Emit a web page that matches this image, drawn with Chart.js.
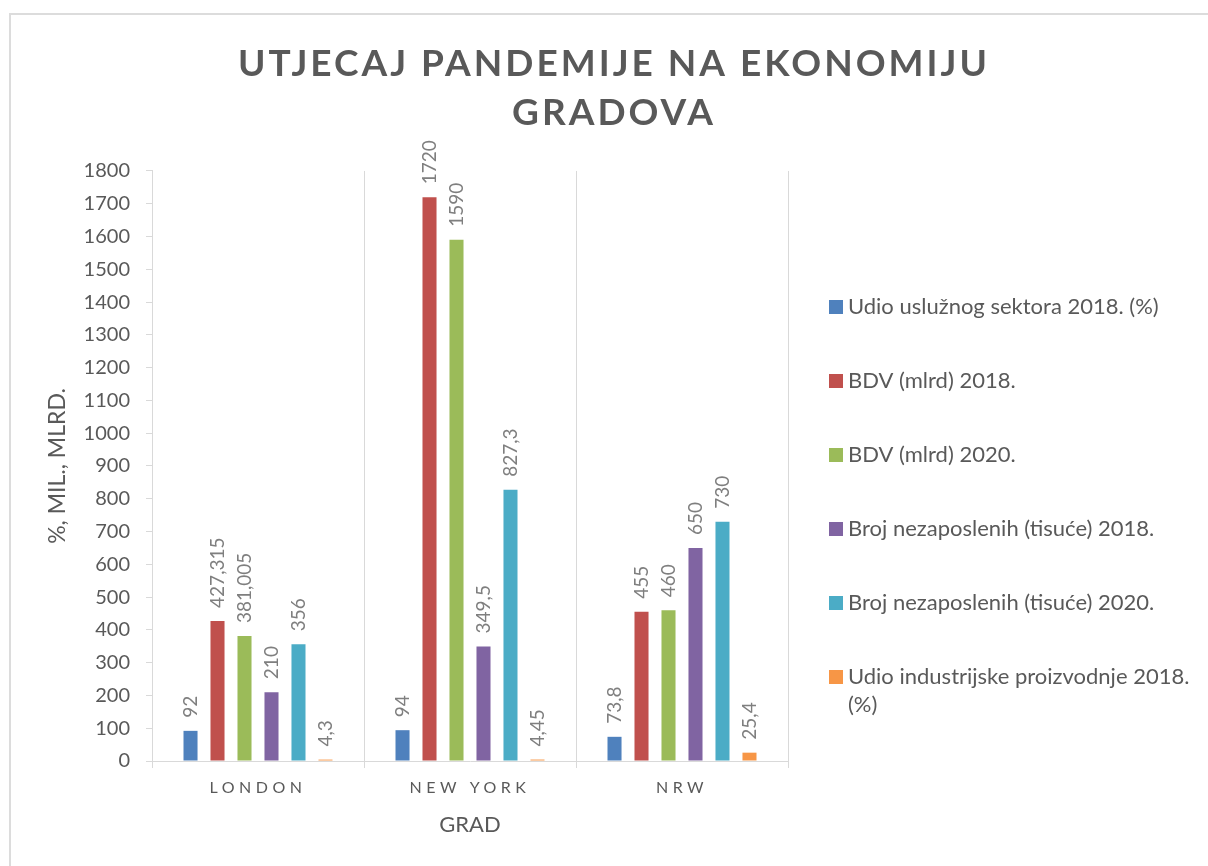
<!DOCTYPE html>
<html>
<head>
<meta charset="utf-8">
<script src="https://cdn.jsdelivr.net/npm/chart.js@4.4.1/dist/chart.umd.min.js"></script>
<style>
  html, body { margin: 0; padding: 0; background: #fff; overflow: hidden; }
  .okvir {
    position: absolute; left: 9px; top: 13px;
    border: 2px solid #dcdcdc;
    width: 1206px; height: 851px;
  }
  canvas { display: block; }
</style>
</head>
<body>
<div class="okvir"><canvas id="grafikon" width="1206" height="851"></canvas></div>
<script>
const gradovi = ["LONDON", "NEW YORK", "NRW"];

const udioUsluzni2018 = [92, 94, 73.8];
const bdv2018 = [427.315, 1720, 455];
const bdv2020 = [381.005, 1590, 460];
const nezaposleni2018 = [210, 349.5, 650];
const nezaposleni2020 = [356, 827.3, 730];
const udioIndustrija2018 = [4.3, 4.45, 25.4];

const nazivi = [
  "Udio uslužnog sektora 2018. (%)",
  "BDV (mlrd) 2018.",
  "BDV (mlrd) 2020.",
  "Broj nezaposlenih (tisuće) 2018.",
  "Broj nezaposlenih (tisuće) 2020.",
  "Udio industrijske proizvodnje 2018. (%)"
];
const boje = ["#4f81bd", "#c0504d", "#9bbb59", "#8064a2", "#4bacc6", "#f79646"];
const serije = [udioUsluzni2018, bdv2018, bdv2020, nezaposleni2018, nezaposleni2020, udioIndustrija2018];

const naslov = ["UTJECAJ PANDEMIJE NA EKONOMIJU", "GRADOVA"];
const yNaslov = "%, MIL., MLRD.";
const xNaslov = "GRAD";

const FONT = "Lato, 'Open Sans', sans-serif";
const SIVA = "#595959";
const LINIJA = "#d9d9d9";

// razmak slova za naslov i nazive gradova; naslov centriran na cijelu širinu
const razmakSlova = {
  id: "razmakSlova",
  beforeDraw(chart) {
    const t = chart.titleBlock;
    if (t && !t._razmak) {
      const orig = t.draw;
      t.draw = function () {
        const c = this.ctx;
        c.save();
        c.translate(chart.width / 2 - (this.left + this.right) / 2, 0);
        c.letterSpacing = "3px";
        orig.apply(this, arguments);
        c.restore();
      };
      t._razmak = true;
    }
    const x = chart.scales.x;
    if (x && !x._razmak) {
      const origL = x.drawLabels;
      x.drawLabels = function () {
        const c = this.ctx;
        c.save();
        c.letterSpacing = "4.5px";
        origL.apply(this, arguments);
        c.restore();
      };
      x._razmak = true;
    }
  }
};

// vrijednosti iznad stupaca, okrenute okomito
const oznake = {
  id: "oznake",
  afterDatasetsDraw(chart) {
    const ctx = chart.ctx;
    ctx.save();
    ctx.font = "19px " + FONT;
    ctx.fillStyle = "#7f7f7f";
    ctx.textAlign = "left";
    ctx.textBaseline = "middle";
    chart.data.datasets.forEach((ds, i) => {
      chart.getDatasetMeta(i).data.forEach((bar, j) => {
        const tekst = String(ds.data[j]).replace(".", ",");
        ctx.save();
        ctx.translate(bar.x, bar.y - 13);
        ctx.rotate(-Math.PI / 2);
        ctx.fillText(tekst, 0, 0);
        ctx.restore();
      });
    });
    ctx.restore();
  }
};

// legenda desno od grafikona
const legenda = {
  id: "legenda",
  afterDraw(chart) {
    const ctx = chart.ctx;
    const x0 = 818, y0 = 292, korak = 74, maxSirina = 352;
    ctx.save();
    ctx.font = "22px " + FONT;
    ctx.textBaseline = "middle";
    ctx.textAlign = "left";
    chart.data.datasets.forEach((ds, i) => {
      const y = y0 + i * korak;
      ctx.fillStyle = ds.backgroundColor;
      ctx.fillRect(x0, y - 7, 14, 14);
      ctx.fillStyle = SIVA;
      // prelamanje predugog naziva
      const rijeci = ds.label.split(" ");
      let red = "", redovi = [];
      rijeci.forEach(r => {
        const probni = red ? red + " " + r : r;
        if (ctx.measureText(probni).width > maxSirina && red) {
          redovi.push(red);
          red = r;
        } else {
          red = probni;
        }
      });
      redovi.push(red);
      redovi.forEach((r, k) => ctx.fillText(r, x0 + 19, y + k * 28));
    });
    ctx.restore();
  }
};

new Chart(document.getElementById("grafikon"), {
  type: "bar",
  data: {
    labels: gradovi,
    datasets: serije.map((s, i) => ({
      label: nazivi[i],
      data: s,
      backgroundColor: boje[i],
      categoryPercentage: 0.764,
      barPercentage: 0.52
    }))
  },
  options: {
    responsive: false,
    animation: false,
    layout: { padding: { left: 0, right: 429, top: 0, bottom: 0 } },
    plugins: {
      legend: { display: false },
      tooltip: { enabled: false },
      title: {
        display: true,
        text: naslov,
        color: SIVA,
        font: { family: FONT, size: 37, weight: "bold", lineHeight: 1.324 },
        padding: { top: 24.5, bottom: 33.5 }
      }
    },
    scales: {
      x: {
        afterFit(scale) { scale.height = 105; },
        border: { color: LINIJA },
        grid: { color: LINIJA, offset: true, tickLength: 7 },
        ticks: { color: SIVA, font: { family: FONT, size: 16 }, padding: 10 },
        title: {
          display: true,
          text: xNaslov,
          color: SIVA,
          font: { family: FONT, size: 22 },
          padding: { top: 0, bottom: 28 }
        }
      },
      y: {
        min: 0,
        max: 1800,
        afterFit(scale) { scale.width = 141; },
        border: { color: LINIJA },
        grid: { color: LINIJA, drawOnChartArea: false, tickLength: 6 },
        ticks: {
          stepSize: 100,
          color: SIVA,
          font: { family: FONT, size: 20 },
          padding: 16,
          autoSkip: false,
          callback: v => String(v)
        },
        title: {
          display: true,
          text: yNaslov,
          color: SIVA,
          font: { family: FONT, size: 23 },
          padding: { top: 33, bottom: 0 }
        }
      }
    }
  },
  plugins: [razmakSlova, oznake, legenda]
});
</script>
</body>
</html>
